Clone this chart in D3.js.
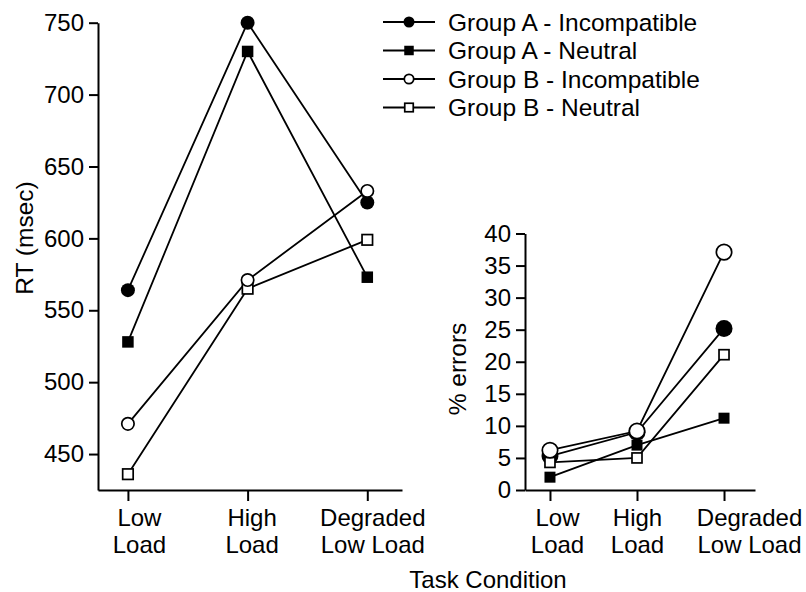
<!DOCTYPE html>
<html>
<head>
<meta charset="utf-8">
<script src="https://cdn.jsdelivr.net/npm/d3@7"></script>
<style>
  body { margin: 0; background: #fff; }
  svg { display: block; font-family: "Liberation Sans", Arial, Helvetica, sans-serif; }
  .domain, .tick line { stroke: #000; stroke-width: 2; }
</style>
</head>
<body>
<svg width="806" height="592"></svg>
<script>
// conditions on the x axis (two lines each)
var conditions = [["Low", "Load"], ["High", "Load"], ["Degraded", "Low Load"]];

var groups = ["Group A - Incompatible", "Group A - Neutral", "Group B - Incompatible", "Group B - Neutral"];
var markers = ["filledCircle", "filledSquare", "openCircle", "openSquare"];

// reaction times (msec)
var rtGroupAInc = [564, 750, 625];
var rtGroupANeu = [528, 730, 573];
var rtGroupBInc = [471, 571, 633];
var rtGroupBNeu = [436, 565, 599];

// error rates (%)
var errGroupAInc = [5.3, 9.0, 25.2];
var errGroupANeu = [2.0, 7.0, 11.2];
var errGroupBInc = [6.2, 9.2, 37.1];
var errGroupBNeu = [4.3, 5.0, 21.1];

var rtTicks = [450, 500, 550, 600, 650, 700, 750];
var errTicks = [0, 5, 10, 15, 20, 25, 30, 35, 40];

var svg = d3.select("svg");

var panels = [
  { series: [rtGroupAInc, rtGroupANeu, rtGroupBInc, rtGroupBNeu],
    xDomain: [-0.25, 2.29], xRange: [98, 402],
    yDomain: [425, 750], yRange: [490, 22.7],
    ticks: rtTicks, title: "RT (msec)", titleX: 33, titleY: 238,
    r: 7, sq: 11.5, labelShift: [11, 4, 5] },
  { series: [errGroupAInc, errGroupANeu, errGroupBInc, errGroupBNeu],
    xDomain: [-0.287, 2.356], xRange: [525, 755],
    yDomain: [0, 40], yRange: [490, 233.5],
    ticks: errTicks, title: "% errors", titleX: 466, titleY: 369,
    r: 8.5, sq: 11, labelShift: [7, 0, 25] }
];

// draw order: last one on top
var drawOrder = [0, 1, 3, 2];

function drawMarker(g, type, x, y, r, sq) {
  var filled = type.indexOf("filled") === 0;
  if (type.indexOf("Circle") > 0) {
    g.append("circle")
      .attr("cx", x).attr("cy", y)
      .attr("r", filled ? r : r - 0.8)
      .attr("fill", filled ? "#000" : "#fff")
      .attr("stroke", "#000").attr("stroke-width", filled ? 0 : 1.7);
  } else {
    var s = filled ? sq : sq - 1;
    g.append("rect")
      .attr("x", x - s / 2).attr("y", y - s / 2)
      .attr("width", s).attr("height", s)
      .attr("fill", filled ? "#000" : "#fff")
      .attr("stroke", "#000").attr("stroke-width", filled ? 0 : 1.7);
  }
}

panels.forEach(function(p) {
  var x = d3.scaleLinear().domain(p.xDomain).range(p.xRange);
  var y = d3.scaleLinear().domain(p.yDomain).range(p.yRange);
  var g = svg.append("g");

  // y axis
  var ya = g.append("g")
    .attr("transform", "translate(" + p.xRange[0] + ",0)")
    .call(d3.axisLeft(y).tickValues(p.ticks).tickSize(9).tickSizeOuter(0).tickPadding(5));
  ya.selectAll("text").attr("font-size", 24).attr("fill", "#000").attr("font-family", null);

  // x axis, labels on two lines
  var xa = g.append("g")
    .attr("transform", "translate(0," + p.yRange[0] + ")")
    .call(d3.axisBottom(x).tickValues([0, 1, 2]).tickSize(11).tickSizeOuter(0).tickFormat(""));
  xa.selectAll(".tick").each(function(d) {
    var t = d3.select(this).append("text")
      .attr("text-anchor", "middle")
      .attr("font-size", 24)
      .attr("fill", "#000");
    t.append("tspan").attr("x", p.labelShift[d]).attr("y", 36).text(conditions[d][0]);
    t.append("tspan").attr("x", p.labelShift[d]).attr("y", 63).text(conditions[d][1]);
  });

  // y title
  g.append("text")
    .attr("transform", "translate(" + p.titleX + "," + p.titleY + ") rotate(-90)")
    .attr("text-anchor", "middle")
    .attr("font-size", 24.5)
    .text(p.title);

  var line = d3.line()
    .x(function(d, i) { return x(i); })
    .y(function(d) { return y(d); });

  drawOrder.forEach(function(k) {
    g.append("path")
      .datum(p.series[k])
      .attr("d", line)
      .attr("fill", "none")
      .attr("stroke", "#000")
      .attr("stroke-width", 1.8);
  });
  drawOrder.forEach(function(k) {
    p.series[k].forEach(function(v, i) {
      drawMarker(g, markers[k], x(i), y(v), p.r, p.sq);
    });
  });
});

// shared x title
svg.append("text")
  .attr("x", 488).attr("y", 588)
  .attr("text-anchor", "middle")
  .attr("font-size", 24)
  .text("Task Condition");

// legend
var legend = svg.append("g").attr("transform", "translate(383,22)");
groups.forEach(function(name, i) {
  var row = legend.append("g").attr("transform", "translate(0," + (i * 28.5) + ")");
  row.append("line")
    .attr("x1", 0).attr("x2", 52).attr("y1", 0).attr("y2", 0)
    .attr("stroke", "#000").attr("stroke-width", 2);
  drawMarker(row, markers[i], 26, 0, 5.5, 9.5);
  row.append("text")
    .attr("x", 65).attr("y", 8.5)
    .attr("font-size", 24.5)
    .text(name);
});
</script>
</body>
</html>
